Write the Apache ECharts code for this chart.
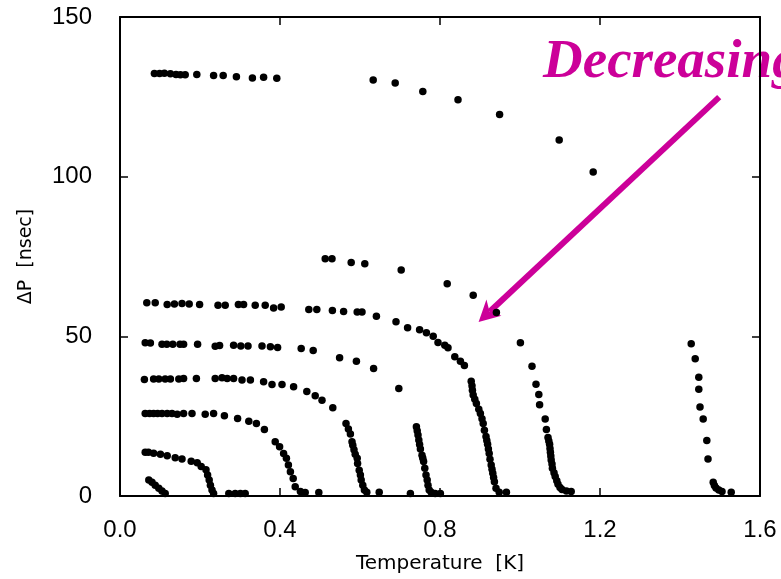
<!DOCTYPE html>
<html><head><meta charset="utf-8">
<script src="https://cdn.jsdelivr.net/npm/echarts@6/dist/echarts.min.js"></script>
<style>html,body{margin:0;padding:0;background:#fff}#c{width:781px;height:579px}</style>
</head><body><div id="c"></div>
<script>
// ---- axis settings ----
const xMin = 0, xMax = 1.6, xStep = 0.4;
const yMin = 0, yMax = 150, yStep = 50;
const xTitle = 'Temperature  [K]';
const yTitle = '\u0394P  [nsec]';
const noteText = 'Decreasing';
const arrowFrom = [1.498, 124.9];
const arrowTo = [0.8965, 54.5];

// ---- data: [temperature K, deltaP nsec] ----
const curve132 = [[0.086,132.3],[0.099,132.3],[0.111,132.4],[0.126,132.2],[0.140,132.0],[0.151,131.9],[0.163,131.9],[0.192,132.0],[0.234,131.7],[0.258,131.7],[0.291,131.3],[0.331,130.9],[0.359,131.1],[0.392,130.8],
  [0.633,130.3],[0.688,129.3],[0.757,126.7],[0.845,124.1],[0.949,119.5],[1.098,111.5],[1.183,101.5],
  [1.428,47.7],[1.438,43.0],[1.447,37.2],[1.447,33.4],[1.450,27.9],[1.458,24.1],[1.467,17.4],[1.470,11.6],[1.483,4.3],[1.486,3.3],[1.490,2.5],[1.497,1.9],[1.505,1.4],[1.528,1.2]];
const curve75 = [[0.513,74.3],[0.530,74.3],[0.578,73.1],[0.612,72.7],[0.703,70.8],[0.818,66.5],[0.883,62.9],[0.941,57.5],[1.001,48.0],[1.030,40.6],[1.040,35.0],[1.047,31.8],[1.049,28.6],[1.063,24.1],[1.066,20.8],[1.070,18.3],[1.072,17.2],[1.074,16.2],[1.075,14.9],[1.076,13.7],[1.077,12.5],[1.078,11.3],[1.080,10.0],[1.081,8.7],[1.085,7.3],[1.088,6.1],[1.092,4.8],[1.095,3.7],[1.100,2.7],[1.105,2.0],[1.116,1.6],[1.128,1.4]];
const curve60 = [[0.067,60.5],[0.088,60.5],[0.118,60.0],[0.136,60.1],[0.155,60.3],[0.173,60.1],[0.199,60.0],[0.245,59.7],[0.263,59.7],[0.296,60.0],[0.309,60.0],[0.338,59.7],[0.363,59.7],[0.384,58.9],[0.403,59.2],[0.472,58.4],[0.492,58.4],[0.531,58.1],[0.559,57.8],[0.593,57.6],[0.605,57.6],[0.641,56.3],[0.690,54.6],[0.719,52.7],[0.749,52.1],[0.766,51.1],[0.783,50.0],[0.795,48.1],[0.812,47.2],[0.820,46.4],[0.837,43.6],[0.851,42.2],[0.861,40.9],
  [0.878,35.9],[0.880,34.5],[0.881,33.1],[0.883,31.6],[0.887,30.3],[0.891,29.0],[0.897,27.2],[0.901,25.8],[0.905,24.2],[0.908,22.7],[0.911,20.6],[0.915,18.6],[0.917,17.4],[0.919,16.2],[0.921,14.7],[0.923,13.3],[0.925,11.5],[0.928,9.7],[0.930,8.4],[0.932,7.1],[0.934,5.8],[0.936,4.5],[0.940,2.4],[0.948,1.2],[0.966,1.2]];
const curve48 = [[0.063,48.0],[0.076,47.9],[0.105,47.5],[0.117,47.5],[0.132,47.5],[0.150,47.5],[0.159,47.5],[0.194,47.5],[0.238,46.9],[0.249,47.1],[0.284,47.2],[0.302,47.0],[0.320,47.0],[0.355,47.0],[0.376,46.7],[0.394,46.5],[0.453,46.2],[0.483,45.6],[0.549,43.3],[0.591,42.2],[0.634,39.9],[0.697,33.7],
  [0.741,21.7],[0.743,20.4],[0.745,19.1],[0.747,17.5],[0.749,16.1],[0.751,14.7],[0.755,12.8],[0.757,11.8],[0.759,10.8],[0.762,8.7],[0.765,6.6],[0.768,5.0],[0.770,3.4],[0.773,1.9],[0.778,1.2],[0.788,0.8],[0.801,0.8]];
const curve37 = [[0.061,36.5],[0.084,36.6],[0.097,36.6],[0.113,36.6],[0.126,36.6],[0.147,36.6],[0.159,36.8],[0.191,36.8],[0.238,36.8],[0.255,37.0],[0.268,36.8],[0.284,36.8],[0.305,36.3],[0.326,36.3],[0.359,35.8],[0.380,34.9],[0.405,34.9],[0.434,34.2],[0.467,32.7],[0.488,31.4],[0.505,30.0],[0.532,27.6],
  [0.565,22.7],[0.571,21.0],[0.576,19.4],[0.580,17.0],[0.582,15.9],[0.585,14.5],[0.588,13.1],[0.593,11.8],[0.594,10.2],[0.598,8.1],[0.601,6.6],[0.603,5.0],[0.607,3.4],[0.611,1.9],[0.617,1.2],[0.648,1.2],[0.726,0.8]];
const curve26 = [[0.063,25.8],[0.074,25.8],[0.084,25.8],[0.094,25.8],[0.105,25.8],[0.118,25.8],[0.130,25.8],[0.143,25.6],[0.159,25.8],[0.180,25.8],[0.213,25.6],[0.234,25.8],[0.261,25.1],[0.294,24.3],[0.322,23.4],[0.341,22.7],[0.361,20.8],
  [0.388,17.0],[0.399,15.4],[0.409,13.3],[0.416,11.8],[0.421,9.7],[0.426,7.6],[0.433,5.5],[0.438,2.9],[0.451,1.4],[0.463,1.1],[0.497,1.1]];
const curve13 = [[0.063,13.7],[0.071,13.7],[0.084,13.4],[0.101,13.1],[0.118,12.6],[0.138,12.0],[0.155,11.6],[0.178,10.9],[0.193,10.4],[0.203,9.2],[0.215,8.2],[0.219,6.6],[0.223,5.0],[0.226,3.4],[0.230,1.9],[0.234,0.8],[0.272,0.8],[0.288,0.8],[0.301,0.8],[0.313,0.8]];
const curve4 = [[0.072,5.0],[0.080,4.3],[0.088,3.4],[0.097,2.4],[0.105,1.6],[0.113,0.8]];

const allCurves = [curve132, curve75, curve60, curve48, curve37, curve26, curve13, curve4];

const ink = '#000';
const accent = '#CC0099';

const chart = echarts.init(document.getElementById('c'), null, {renderer: 'canvas'});

function baseAxis(extra) {
  return Object.assign({
    type: 'value',
    axisLine: {show: true, onZero: false, lineStyle: {color: ink, width: 2}},
    axisTick: {show: true, inside: true, length: 8, lineStyle: {color: ink, width: 1.5}},
    splitLine: {show: false}
  }, extra);
}

chart.setOption({
  animation: false,
  backgroundColor: '#fff',
  grid: {left: 120, right: 21, top: 17, bottom: 81},
  xAxis: [
    baseAxis({
      position: 'bottom', min: xMin, max: xMax, interval: xStep,
      axisLabel: {formatter: v => v.toFixed(1), fontSize: 24, fontFamily: 'Liberation Sans', color: ink, margin: 22},
      name: xTitle, nameLocation: 'middle', nameGap: 58,
      nameTextStyle: {fontFamily: 'DejaVu Sans', fontSize: 20, color: ink}
    }),
    baseAxis({position: 'top', min: xMin, max: xMax, interval: xStep, axisLabel: {show: false}})
  ],
  yAxis: [
    baseAxis({
      position: 'left', min: yMin, max: yMax, interval: yStep,
      axisLabel: {fontSize: 24, fontFamily: 'Liberation Sans', color: ink, margin: 28},
      name: yTitle, nameLocation: 'middle', nameGap: 84,
      nameTextStyle: {fontFamily: 'DejaVu Sans', fontSize: 19, color: ink}
    }),
    baseAxis({position: 'right', min: yMin, max: yMax, interval: yStep, axisLabel: {show: false}})
  ],
  series: allCurves.map(d => ({
    type: 'scatter', data: d, symbol: 'circle', symbolSize: 7.5,
    itemStyle: {color: ink, opacity: 1}, silent: true, xAxisIndex: 0, yAxisIndex: 0
  }))
});

// annotation arrow + text
const S = chart.convertToPixel({xAxisIndex: 0, yAxisIndex: 0}, arrowFrom);
const T = chart.convertToPixel({xAxisIndex: 0, yAxisIndex: 0}, arrowTo);
const dx = T[0] - S[0], dy = T[1] - S[1];
const len = Math.sqrt(dx * dx + dy * dy);
const ux = dx / len, uy = dy / len;
const nx = -uy, ny = ux;
const headL = 21, headW = 11, notch = 15;
const Bx = T[0] - ux * headL, By = T[1] - uy * headL;
const Nx = T[0] - ux * notch, Ny = T[1] - uy * notch;

chart.setOption({
  graphic: [
    {type: 'line', silent: true, shape: {x1: S[0], y1: S[1], x2: Nx, y2: Ny},
     style: {stroke: accent, lineWidth: 6}},
    {type: 'polygon', silent: true,
     shape: {points: [[T[0], T[1]], [Bx + nx * headW, By + ny * headW], [Nx, Ny], [Bx - nx * headW, By - ny * headW]]},
     style: {fill: accent}},
    {type: 'text', silent: true, x: 543, y: 63,
     style: {text: noteText, font: 'italic bold 55px "Liberation Serif"', fill: accent,
             align: 'left', verticalAlign: 'middle', textAlign: 'left', textVerticalAlign: 'middle'}}
  ]
});
</script>
</body></html>
